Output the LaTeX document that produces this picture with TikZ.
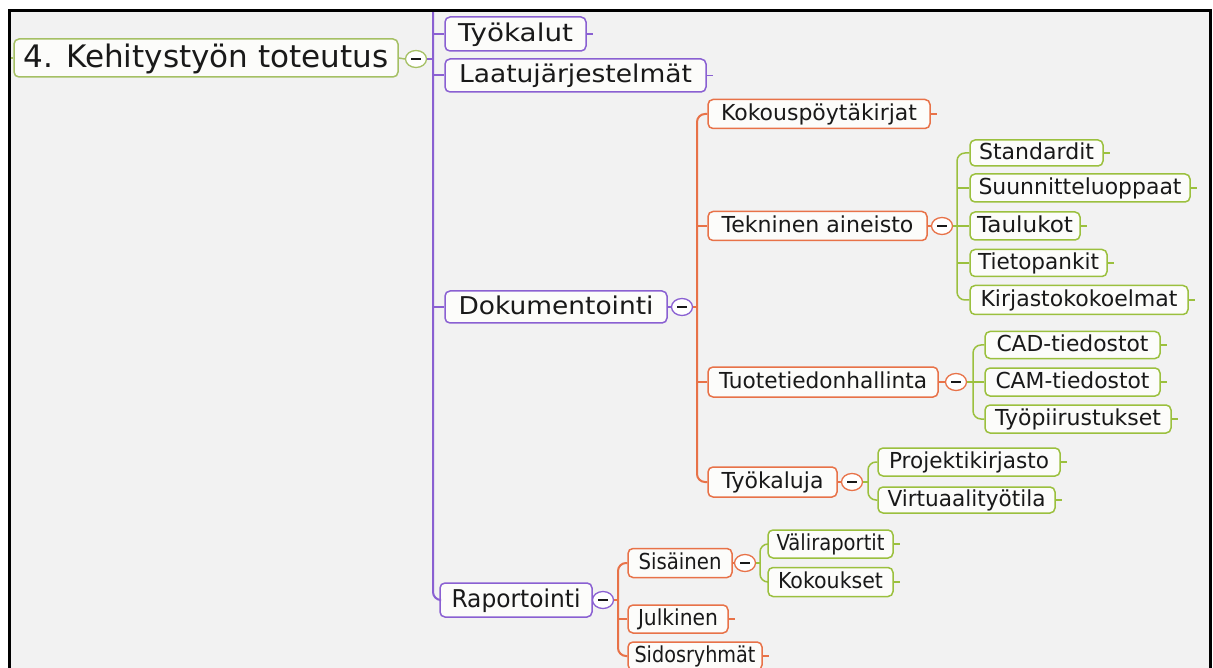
\documentclass[tikz,border=0pt]{standalone}
\usepackage{graphicx}
\usepackage{fontspec}
\setmainfont{DejaVu Sans}
\usetikzlibrary{shapes.geometric}

\definecolor{frameBg}{RGB}{242,242,242}
\definecolor{rootGreen}{RGB}{165,192,100}
\definecolor{topPurple}{RGB}{138,96,210}
\definecolor{midOrange}{RGB}{232,114,72}
\definecolor{leafGreen}{RGB}{155,192,62}
\definecolor{boxFill}{RGB}{252,252,250}
\definecolor{ink}{RGB}{25,25,25}

% set a label to a given width, keeping its natural height
\newcommand{\fitw}[2]{\resizebox{#1pt}{\height}{#2}}

\begin{document}
\begin{tikzpicture}[x=1pt,y=-1pt,
  mapbox/.style={rectangle, rounded corners=5pt, fill=boxFill, line width=1.5pt,
    inner sep=0pt, text=ink},
  rootbox/.style={mapbox, draw=rootGreen, font=\fontsize{31}{36}\selectfont,
    text height=22.5pt, text depth=4pt},
  pbox/.style={mapbox, draw=topPurple, font=\fontsize{24.5}{28}\selectfont,
    text height=18pt, text depth=3.5pt},
  obox/.style={mapbox, draw=midOrange, font=\fontsize{22}{26}\selectfont,
    text height=16pt, text depth=3pt},
  gbox/.style={mapbox, draw=leafGreen, font=\fontsize{22}{26}\selectfont,
    text height=16pt, text depth=3pt},
  toggle/.style={ellipse, minimum width=21pt, minimum height=17pt, inner sep=0pt,
    fill=white, line width=1.3pt,
    path picture={\draw[ink, line width=1.4pt]
      ([xshift=-5pt]path picture bounding box.center) --
      ([xshift=5pt]path picture bounding box.center);}},
  rline/.style={draw=rootGreen, line width=1.5pt},
  pline/.style={draw=topPurple, line width=2pt},
  oline/.style={draw=midOrange, line width=2pt},
  gline/.style={draw=leafGreen, line width=1.5pt},
  spine/.style={rounded corners=8pt},
]
\useasboundingbox (0,0) rectangle (1213,668);
\fill[white] (0,0) rectangle (1213,668);
\fill[frameBg] (9.5,11) rectangle (1210.5,668);

% ---- nodes ----
\node[rootbox, minimum width=384, minimum height=38] (root) at (206,58) {\fitw{365}{4. Kehitystyön toteutus}\hspace{11pt}};
\node[toggle, draw=rootGreen] (rootc) at (416,59) {};

\node[pbox, minimum width=141, minimum height=34] (tyokalut) at (515.5,34) {\fitw{115}{Työkalut}};
\node[pbox, minimum width=261, minimum height=33] (laatu) at (575.5,75.5) {\fitw{233}{Laatujärjestelmät}};
\node[pbox, minimum width=222, minimum height=32] (dok) at (556,307) {\fitw{195}{Dokumentointi}};
\node[toggle, draw=topPurple] (dokc) at (682,307) {};
\node[pbox, minimum width=152, minimum height=34] (rap) at (516,600) {\fitw{129}{Raportointi}};
\node[toggle, draw=topPurple] (rapc) at (603,600) {};

\node[obox, minimum width=222, minimum height=29] (kokous) at (819,114) {\fitw{196}{Kokouspöytäkirjat}};
\node[obox, minimum width=219, minimum height=29] (tekn) at (817.5,226) {\fitw{192}{Tekninen aineisto}};
\node[toggle, draw=midOrange] (teknc) at (942,226) {};
\node[obox, minimum width=230, minimum height=30] (tuote) at (823,382) {\fitw{208}{Tuotetiedonhallinta}};
\node[toggle, draw=midOrange] (tuotec) at (956,382) {};
\node[obox, minimum width=129, minimum height=30] (tkaluja) at (772.5,482) {\fitw{102}{Työkaluja}};
\node[toggle, draw=midOrange] (tkalujac) at (852,482) {};

\node[gbox, minimum width=133, minimum height=26] (standardit) at (1036.5,153) {\fitw{115}{Standardit}};
\node[gbox, minimum width=220, minimum height=28] (suunn) at (1080,188) {\fitw{203}{Suunnitteluoppaat}};
\node[gbox, minimum width=110, minimum height=28] (taulukot) at (1025,226) {\fitw{96}{Taulukot}};
\node[gbox, minimum width=137, minimum height=27] (tieto) at (1038.5,263) {\fitw{121}{Tietopankit}};
\node[gbox, minimum width=218, minimum height=29] (kirjasto) at (1079,300) {\fitw{197}{Kirjastokokoelmat}};

\node[gbox, minimum width=175, minimum height=27] (cad) at (1072.5,345) {\fitw{152}{CAD-tiedostot}};
\node[gbox, minimum width=175, minimum height=28] (cam) at (1072.5,382) {\fitw{154}{CAM-tiedostot}};
\node[gbox, minimum width=186, minimum height=28] (tyopiir) at (1078,419) {\fitw{166}{Työpiirustukset}};

\node[gbox, minimum width=182, minimum height=28] (projekti) at (969,462) {\fitw{160}{Projektikirjasto}};
\node[gbox, minimum width=177, minimum height=26] (virtuaali) at (966.5,500) {\fitw{158}{Virtuaalityötila}};

\node[obox, minimum width=104, minimum height=29] (sisainen) at (680,563) {\fitw{83}{Sisäinen}};
\node[toggle, draw=midOrange] (sisainenc) at (745,563) {};
\node[obox, minimum width=100, minimum height=28] (julkinen) at (678,619) {\fitw{80}{Julkinen}};
\node[obox, minimum width=134, minimum height=28] (sidos) at (695,656) {\fitw{121}{Sidosryhmät}};

\node[gbox, minimum width=125, minimum height=28] (valirap) at (830.5,544) {\fitw{108}{Väliraportit}};
\node[gbox, minimum width=125, minimum height=29] (kokoukset) at (830.5,582) {\fitw{105}{Kokoukset}};

% ---- spine anchor points ----
\coordinate (lefttick) at (9.5,58);
\coordinate (ptop) at (433,11);
\coordinate (dspine) at (697,307);
\coordinate (tspine) at (957,226);
\coordinate (uspine) at (973,382);
\coordinate (kspine) at (868,482);
\coordinate (rspine) at (618,600);
\coordinate (sspine) at (760,563);

% ---- connectors ----
\draw[rline] (lefttick) -- (root.west);
\draw[rline] (root.east) -- (rootc.west);
\draw[pline] (rootc.east) -- (rootc.east -| ptop);

\draw[pline, spine] (ptop) |- (rap.west);
\draw[pline] (ptop |- tyokalut.west) -- (tyokalut.west);
\draw[pline] (ptop |- laatu.west) -- (laatu.west);
\draw[pline] (ptop |- dok.west) -- (dok.west);

\draw[pline] (dok.east) -- (dokc.west);
\draw[oline] (dokc.east) -- (dspine);
\draw[oline, spine] (kokous.west) -| (dspine) |- (tkaluja.west);
\draw[oline] (dspine |- tekn.west) -- (tekn.west);
\draw[oline] (dspine |- tuote.west) -- (tuote.west);

\draw[oline] (tekn.east) -- (teknc.west);
\draw[gline] (teknc.east) -- (tspine);
\draw[gline, spine] (standardit.west) -| (tspine) |- (kirjasto.west);
\draw[gline] (tspine |- suunn.west) -- (suunn.west);
\draw[gline] (tspine) -- (taulukot.west);
\draw[gline] (tspine |- tieto.west) -- (tieto.west);

\draw[oline] (tuote.east) -- (tuotec.west);
\draw[gline] (tuotec.east) -- (uspine);
\draw[gline, spine] (cad.west) -| (uspine) |- (tyopiir.west);
\draw[gline] (uspine) -- (cam.west);

\draw[oline] (tkaluja.east) -- (tkalujac.west);
\draw[gline] (tkalujac.east) -- (kspine);
\draw[gline, spine] (projekti.west) -| (kspine) |- (virtuaali.west);

\draw[pline] (rap.east) -- (rapc.west);
\draw[oline] (rapc.east) -- (rspine);
\draw[oline, spine] (sisainen.west) -| (rspine) |- (sidos.west);
\draw[oline] (rspine |- julkinen.west) -- (julkinen.west);

\draw[oline] (sisainen.east) -- (sisainenc.west);
\draw[gline] (sisainenc.east) -- (sspine);
\draw[gline, spine] (valirap.west) -| (sspine) |- (kokoukset.west);

% ---- end stubs on leaf topics ----
\foreach \n in {tyokalut,laatu}
  \draw[draw=topPurple, line width=1.4pt] (\n.east) -- ++(6,0);
\foreach \n in {kokous,julkinen,sidos}
  \draw[draw=midOrange, line width=1.4pt] (\n.east) -- ++(6,0);
\foreach \n in {standardit,suunn,taulukot,tieto,kirjasto,cad,cam,tyopiir,projekti,virtuaali,valirap,kokoukset}
  \draw[draw=leafGreen, line width=1.4pt] (\n.east) -- ++(6,0);

% ---- frame ----
\draw[black, line width=3pt] (9.5,668) -- (9.5,11) -- (1210.5,11) -- (1210.5,668);
\end{tikzpicture}
\end{document}
